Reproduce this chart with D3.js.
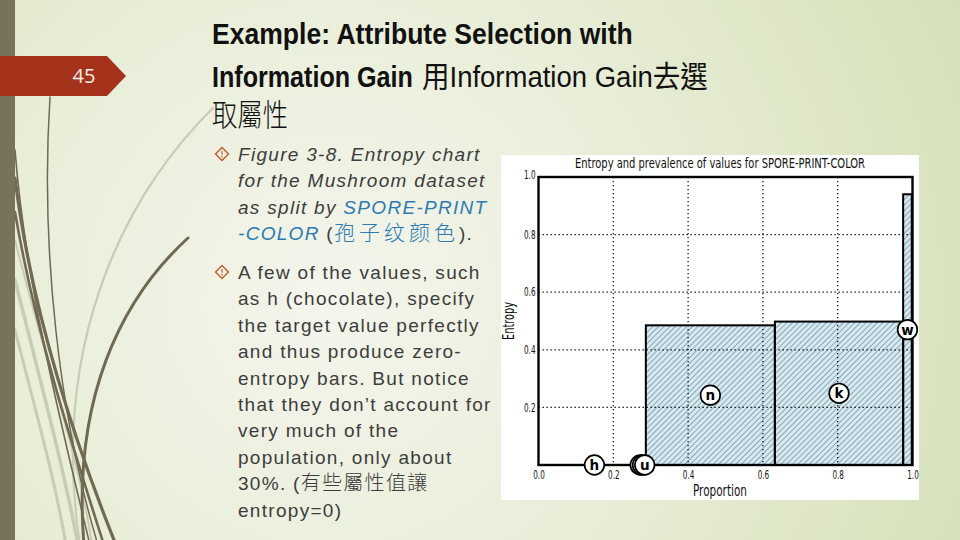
<!DOCTYPE html>
<html>
<head>
<meta charset="utf-8">
<script src="https://cdn.jsdelivr.net/npm/d3@7"></script>
<style>
  html, body { margin: 0; padding: 0; background: #eef1e2; }
  svg { display: block; }
</style>
</head>
<body>
<svg id="slide" width="960" height="540"></svg>
<script>
// ---------- chart data ----------
// names of the two circles hidden behind "u" are not readable in the reference
const valueNames   = ["h", "", "", "u", "n", "k", "w"];
const valueStart   = [0.030, 0.269, 0.275, 0.281, 0.287, 0.632, 0.975];
const valueWidth   = [0.239, 0.006, 0.006, 0.006, 0.345, 0.343, 0.023];
const valueEntropy = [0.0, 0.0, 0.0, 0.0, 0.485, 0.498, 0.940];
const xTicks = [0.0, 0.2, 0.4, 0.6, 0.8, 1.0];
const yTicks = [0.2, 0.4, 0.6, 0.8, 1.0];
const gridX  = [0.2, 0.4, 0.6, 0.8];
const gridY  = [0.2, 0.4, 0.6, 0.8];
const chartTitle = "Entropy and prevalence of values for SPORE-PRINT-COLOR";
const xTitle = "Proportion";
const yTitle = "Entropy";

// ---------- slide text ----------
const slideNumber = "45";
const titleLine1 = "Example: Attribute Selection with";
const titleLine2a = "Information Gain";
const titleLine2b = "用Information Gain去選";
const titleLine3 = "取屬性";
const bullet1 = [
  [["Figure 3-8. Entropy chart", "i"]],
  [["for the Mushroom dataset", "i"]],
  [["as split by ", "i"], ["SPORE-PRINT", "ib"]],
  [["-COLOR", "ib"], [" (", "n"], ["孢子纹颜色", "cb"], [").", "n"]]
];
const bullet2 = [
  [["A few of the values, such", "n"]],
  [["as h (chocolate), specify", "n"]],
  [["the target value perfectly", "n"]],
  [["and thus produce zero-", "n"]],
  [["entropy bars. But notice", "n"]],
  [["that they don\u2019t account for", "n"]],
  [["very much of the", "n"]],
  [["population, only about", "n"]],
  [["30%. (", "n"], ["有些屬性值讓", "c"]],
  [["entropy=0)", "n"]]
];

const svg = d3.select("#slide");
const defs = svg.append("defs");

// background gradient
const bg = defs.append("radialGradient").attr("id", "bg")
  .attr("gradientUnits", "userSpaceOnUse")
  .attr("cx", 330).attr("cy", 300).attr("r", 700);
bg.append("stop").attr("offset", "0").attr("stop-color", "#f4f5ec");
bg.append("stop").attr("offset", "0.45").attr("stop-color", "#e9eed9");
bg.append("stop").attr("offset", "1").attr("stop-color", "#d5e0b8");
svg.append("rect").attr("width", 960).attr("height", 540).attr("fill", "url(#bg)");

// hatch pattern
const pat = defs.append("pattern").attr("id", "hatch")
  .attr("patternUnits", "userSpaceOnUse")
  .attr("width", 4).attr("height", 4)
  .attr("patternTransform", "rotate(45)");
pat.append("rect").attr("width", 4).attr("height", 4).attr("fill", "#d4e9f1");
pat.append("line").attr("x1", 0).attr("y1", 0).attr("x2", 0).attr("y2", 4)
  .attr("stroke", "#566c78").attr("stroke-width", 1.1);

// decorative grass curves
const deco = svg.append("g").attr("fill", "none").attr("stroke-linecap", "round");
const lightCurves = [
  ["M213,108 C120,200 50,350 80,545", 2.2],
  ["M15,280 C40,380 62,460 78,545", 3.5],
  ["M15,330 C38,420 55,480 66,545", 3],
  ["M15,240 C45,360 80,460 92,545", 2]
];
lightCurves.forEach(c => deco.append("path").attr("d", c[0]).attr("stroke", "#c9ccb4").attr("stroke-width", c[1]));
const darkCurves = [
  ["M50,97 C40,250 60,420 98,545", 1.5],
  ["M188,238 C120,300 72,400 84,545", 3],
  ["M15,178 C30,300 70,430 116,545", 3.2],
  ["M15,212 C35,330 72,445 104,545", 2.6],
  ["M15,150 C25,280 60,420 90,545", 1.6]
];
darkCurves.forEach(c => deco.append("path").attr("d", c[0]).attr("stroke", "#6f6a51").attr("stroke-width", c[1]));

// left band + number tab
svg.append("rect").attr("x", 0).attr("y", 0).attr("width", 15).attr("height", 540).attr("fill", "#79725a");
svg.append("path").attr("d", "M0,56 L107,56 L126,76 L107,96 L0,96 Z").attr("fill", "#a5321b");
svg.append("text").attr("x", 84).attr("y", 83).attr("text-anchor", "middle")
  .attr("font-family", "'Open Sans', 'Liberation Sans', sans-serif").attr("font-size", 20)
  .attr("fill", "#f6efe6").text(slideNumber);

// title
const tFont = "'Liberation Sans', Arial, 'Noto Sans CJK TC', sans-serif";
// squeeze a text horizontally (via transform) so that it spans the given width
function squeezed(x0, y0, width, str, attrs) {
  const g = svg.append("g");
  const t = g.append("text").attr("x", 0).attr("y", 0).text(str);
  Object.entries(attrs).forEach(([k, v]) => t.attr(k, v));
  const natural = t.node().getComputedTextLength();
  g.attr("transform", `translate(${x0},${y0}) scale(${width / natural},1)`);
  return t;
}
squeezed(212, 44, 421, titleLine1, {"font-family": tFont, "font-weight": "bold", "font-size": 30, "fill": "#111"});
squeezed(212, 87, 201, titleLine2a, {"font-family": tFont, "font-weight": "bold", "font-size": 30, "fill": "#111"});
squeezed(422, 87, 286, titleLine2b, {"font-family": tFont, "font-size": 30, "fill": "#111"});
squeezed(212, 126, 76, titleLine3, {"font-family": "'Noto Sans CJK TC', sans-serif", "font-weight": 300, "font-size": 31, "fill": "#111"});

// bullets
function diamond(cx, cy) {
  const g = svg.append("g");
  g.append("path").attr("d", `M${cx},${cy-6.5} L${cx+6.5},${cy} L${cx},${cy+6.5} L${cx-6.5},${cy} Z`)
    .attr("fill", "none").attr("stroke", "#c4592a").attr("stroke-width", 1.4);
  g.append("line").attr("x1", cx).attr("x2", cx).attr("y1", cy-3).attr("y2", cy+0.8)
    .attr("stroke", "#c4592a").attr("stroke-width", 1.2);
  g.append("circle").attr("cx", cx).attr("cy", cy+2.6).attr("r", 0.8).attr("fill", "#c4592a");
}
const bFont = "'Liberation Sans', Arial, sans-serif";
function drawLines(lines, y0) {
  lines.forEach((segs, i) => {
    const t = svg.append("text").attr("x", 238).attr("y", y0 + i * 26.4)
      .attr("font-family", bFont).attr("font-size", 19).attr("fill", "#3d3d3d")
      .attr("letter-spacing", 1.3);
    segs.forEach(([txt, st]) => {
      const s = t.append("tspan").text(txt);
      if (st === "i") s.attr("font-style", "italic");
      if (st === "ib") s.attr("font-style", "italic").attr("fill", "#2b7bb3");
      if (st === "cb") s.attr("font-family", "'Noto Sans CJK TC', sans-serif").attr("font-weight", 300)
        .attr("font-size", 21).attr("letter-spacing", 4).attr("fill", "#2b7bb3");
      if (st === "c") s.attr("font-family", "'Noto Sans CJK TC', sans-serif").attr("font-weight", 300)
        .attr("font-size", 20);
    });
  });
}
diamond(222, 154);
drawLines(bullet1, 161);
diamond(222, 272);
drawLines(bullet2, 279);

// ---------- chart ----------
svg.append("rect").attr("x", 501).attr("y", 155).attr("width", 418).attr("height", 345).attr("fill", "#ffffff");

const x = d3.scaleLinear().domain([0, 1]).range([538.5, 912.5]);
const y = d3.scaleLinear().domain([0, 1]).range([465, 177]);
const cFont = "'Liberation Sans Narrow', 'DejaVu Sans Condensed', 'Roboto Condensed', 'Liberation Sans', sans-serif";

const data = valueNames.map((n, i) => ({
  name: n, start: valueStart[i], width: valueWidth[i], entropy: valueEntropy[i]
}));

const chart = svg.append("g");
// bars
chart.selectAll("rect.bar").data(data.filter(d => d.entropy > 0)).join("rect")
  .attr("class", "bar")
  .attr("x", d => x(d.start))
  .attr("y", d => y(d.entropy))
  .attr("width", d => x(d.start + d.width) - x(d.start))
  .attr("height", d => y(0) - y(d.entropy))
  .attr("fill", "url(#hatch)");

// grid
chart.selectAll("line.gx").data(gridX).join("line").attr("class", "gx")
  .attr("x1", d => x(d)).attr("x2", d => x(d)).attr("y1", y(1)).attr("y2", y(0))
  .attr("stroke", "#000").attr("stroke-width", 1.2).attr("stroke-dasharray", "1.3,2.7");
chart.selectAll("line.gy").data(gridY).join("line").attr("class", "gy")
  .attr("x1", x(0)).attr("x2", x(1)).attr("y1", d => y(d)).attr("y2", d => y(d))
  .attr("stroke", "#000").attr("stroke-width", 1.2).attr("stroke-dasharray", "1.3,2.7");

// bar outlines
chart.selectAll("rect.barline").data(data.filter(d => d.entropy > 0)).join("rect")
  .attr("class", "barline")
  .attr("x", d => x(d.start))
  .attr("y", d => y(d.entropy))
  .attr("width", d => x(d.start + d.width) - x(d.start))
  .attr("height", d => y(0) - y(d.entropy))
  .attr("fill", "none").attr("stroke", "#000").attr("stroke-width", 2);

// frame
chart.append("rect").attr("x", x(0)).attr("y", y(1))
  .attr("width", x(1) - x(0)).attr("height", y(0) - y(1))
  .attr("fill", "none").attr("stroke", "#000").attr("stroke-width", 2.4);

// axes
const xAxis = chart.append("g").attr("transform", `translate(0,${y(0)})`)
  .call(d3.axisBottom(x).tickValues(xTicks).tickSize(0).tickPadding(6).tickFormat(d3.format(".1f")));
xAxis.select(".domain").remove();
xAxis.selectAll("text").attr("font-family", cFont).attr("font-size", 11.5).attr("fill", "#111")
  .attr("textLength", 11.5).attr("lengthAdjust", "spacingAndGlyphs");

const yAxis = chart.append("g").attr("transform", `translate(${x(0)},0)`)
  .call(d3.axisLeft(y).tickValues(yTicks).tickSize(0).tickPadding(3).tickFormat(d3.format(".1f")));
yAxis.select(".domain").remove();
yAxis.selectAll("text").attr("font-family", cFont).attr("font-size", 11.5).attr("fill", "#111")
  .attr("textLength", 11.5).attr("lengthAdjust", "spacingAndGlyphs")
  .attr("dy", d => d === 1 ? "0.1em" : "0.32em");

// titles
chart.append("text").attr("x", 720).attr("y", 168).attr("text-anchor", "middle")
  .attr("font-family", cFont).attr("font-size", 14.5).attr("fill", "#111")
  .attr("textLength", 290).attr("lengthAdjust", "spacingAndGlyphs").text(chartTitle);
chart.append("text").attr("x", 720).attr("y", 496).attr("text-anchor", "middle")
  .attr("font-family", cFont).attr("font-size", 15.5).attr("fill", "#111")
  .attr("textLength", 54).attr("lengthAdjust", "spacingAndGlyphs").text(xTitle);
chart.append("text").attr("transform", "translate(514,321) rotate(-90)").attr("text-anchor", "middle")
  .attr("font-family", cFont).attr("font-size", 15.5).attr("fill", "#111")
  .attr("textLength", 38).attr("lengthAdjust", "spacingAndGlyphs").text(yTitle);

// value labels
const lab = chart.selectAll("g.lab").data(data).join("g").attr("class", "lab")
  .attr("transform", d => `translate(${x(d.start + d.width / 2)},${y(d.entropy / 2)})`);
lab.append("circle").attr("r", 9.8).attr("fill", "#fff").attr("stroke", "#000").attr("stroke-width", 1.7);
lab.filter(d => d.name !== "").append("text").attr("text-anchor", "middle").attr("dy", "0.36em")
  .attr("font-family", "'DejaVu Sans', 'Liberation Sans', sans-serif").attr("font-weight", "bold")
  .attr("font-size", 13.5).attr("fill", "#000").text(d => d.name);
</script>
</body>
</html>
